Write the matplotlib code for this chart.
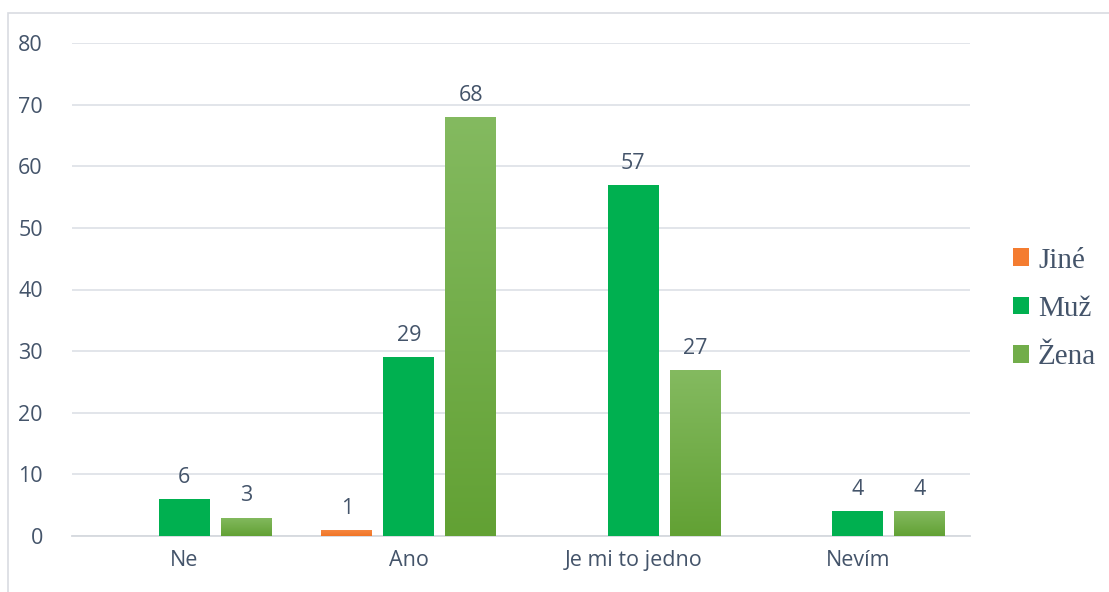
import matplotlib
matplotlib.use("Agg")
import matplotlib.pyplot as plt
import numpy as np
from matplotlib.patches import Rectangle, Patch
from matplotlib.colors import LinearSegmentedColormap

categories = ["Ne", "Ano", "Je mi to jedno", "Nevím"]
series_names = ["Jiné", "Muž", "Žena"]
jine = [0, 1, 0, 0]
muz = [6, 29, 57, 4]
zena = [3, 68, 27, 4]
yticks = [0, 10, 20, 30, 40, 50, 60, 70, 80]

text_color = "#44546A"
grid_color = "#DFE3E8"
col_jine = "#F47C30"
col_muz = "#00B050"
col_zena_top = "#84BA60"
col_zena_bot = "#62A134"
FONT = "Open Sans"
FS = 15.5

fig = plt.figure(figsize=(11.09, 5.92), dpi=100)
ax = fig.add_axes([72/1109, 1-536/592, (970-72)/1109, (536-43)/592])

# chart border
fig.patches.append(Rectangle((8/1109, -0.05), 1.2, 1-13/592+0.05, transform=fig.transFigure,
                             fill=False, edgecolor="#D9DCE1", linewidth=1.2, zorder=0))

x = np.arange(len(categories))
w = 0.227
step = 0.276

b_j = ax.bar(x - step, jine, w, color=col_jine, zorder=3)
b_m = ax.bar(x, muz, w, color=col_muz, zorder=3)
b_z = ax.bar(x + step, zena, w, color=col_zena_bot, zorder=3)

cmap = LinearSegmentedColormap.from_list("zg", [col_zena_bot, col_zena_top])
grad = np.linspace(0, 1, 256).reshape(-1, 1)
for p in b_z.patches:
    if p.get_height() <= 0:
        continue
    im = ax.imshow(grad, cmap=cmap, origin="lower", aspect="auto",
                   extent=(p.get_x(), p.get_x() + p.get_width(), 0, p.get_height()),
                   zorder=4)
    im.set_clip_path(p)

cmap_o = LinearSegmentedColormap.from_list("og", ["#F07526", "#F68A45"])
for p in b_j.patches:
    if p.get_height() <= 0:
        continue
    im = ax.imshow(grad, cmap=cmap_o, origin="lower", aspect="auto",
                   extent=(p.get_x(), p.get_x() + p.get_width(), 0, p.get_height()),
                   zorder=4)
    im.set_clip_path(p)

for bars, vals in ((b_j, jine), (b_m, muz), (b_z, zena)):
    for p, v in zip(bars.patches, vals):
        if v > 0:
            ax.annotate(str(v), (p.get_x() + p.get_width()/2, v), xytext=(0, 8),
                        textcoords="offset points", ha="center", va="bottom",
                        fontsize=FS, color=text_color, family=FONT)

ax.set_xlim(-0.5, 3.5)
ax.set_ylim(0, 80)
ax.set_yticks(yticks)
ax.set_xticks(x)
ax.set_xticklabels(categories)
ax.yaxis.grid(True, color=grid_color, linewidth=1.3, zorder=0)
ax.set_axisbelow(True)
for s in ("top", "right", "left"):
    ax.spines[s].set_visible(False)
ax.spines["bottom"].set_color("#D5D9DE")
ax.spines["bottom"].set_linewidth(1.3)
ax.tick_params(axis="both", length=0, labelsize=FS, labelcolor=text_color)
ax.tick_params(axis="y", pad=21)
ax.tick_params(axis="x", pad=10)
for lab in ax.get_xticklabels() + ax.get_yticklabels():
    lab.set_family(FONT)

handles = [Patch(facecolor=col_jine), Patch(facecolor=col_muz), Patch(facecolor="#72AD4A")]
leg = fig.legend(handles, series_names, loc="center left", bbox_to_anchor=(987/1109, 1-309/592),
                 frameon=False, handlelength=0.55, handleheight=0.55, handletextpad=0.3,
                 labelspacing=0.77, prop={"family": "Liberation Serif", "size": 21})
for t in leg.get_texts():
    t.set_color(text_color)

fig.savefig("out.png", dpi=100)
